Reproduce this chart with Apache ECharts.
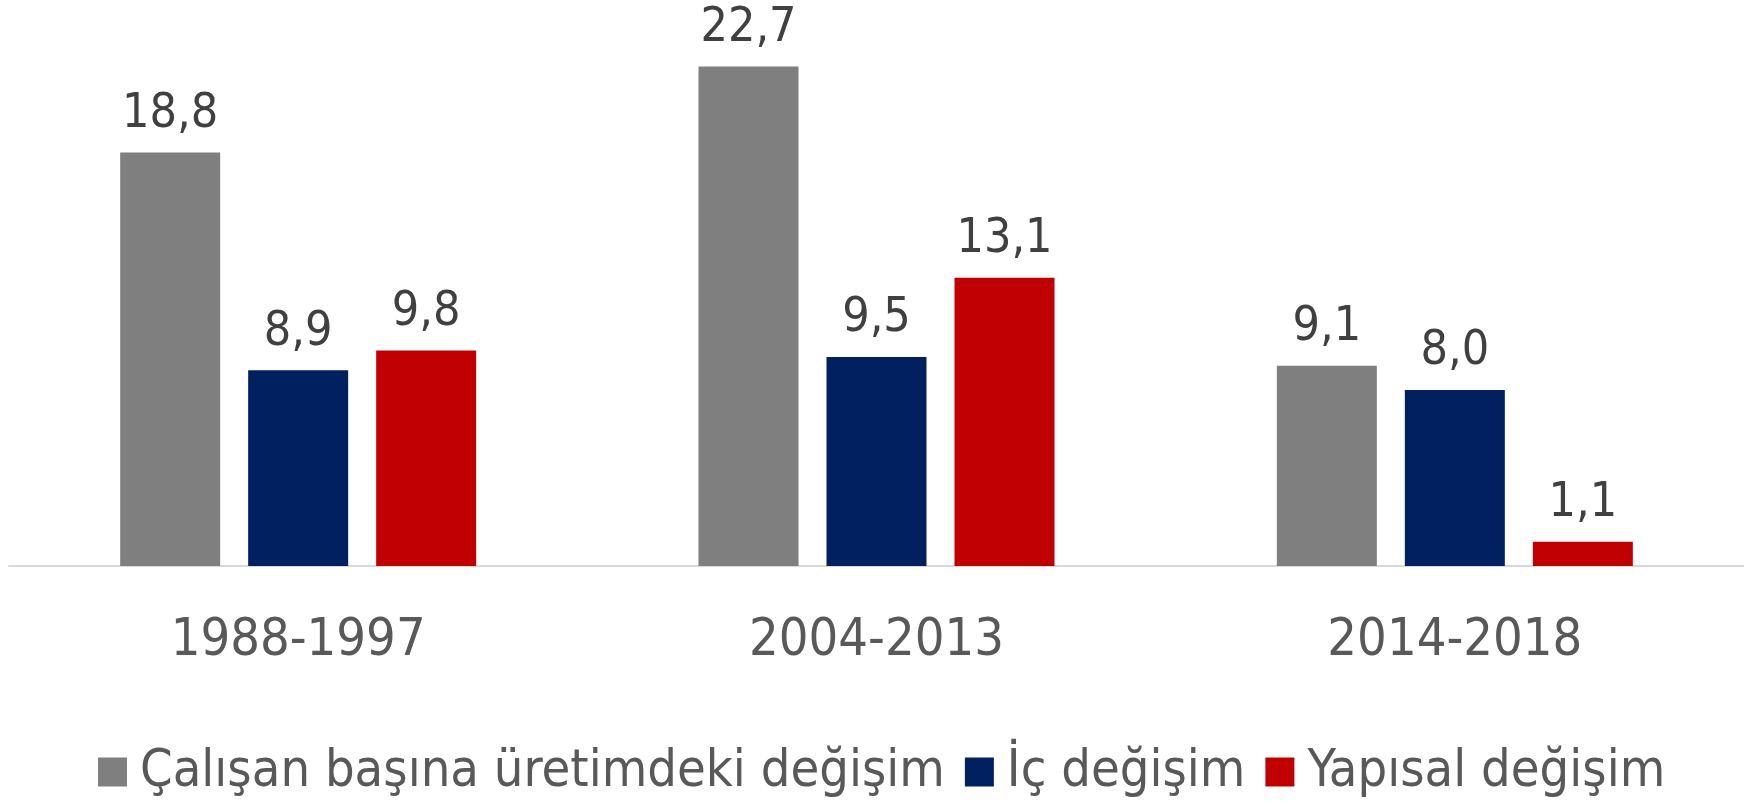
<!DOCTYPE html>
<html>
<head>
<meta charset="utf-8">
<script src="https://cdn.jsdelivr.net/npm/echarts@6/dist/echarts.min.js"></script>
<style>
	html, body { margin: 0; padding: 0; background: #fff; }
	#chart { width: 1744px; height: 802px; }
</style>
</head>
<body>
<div id="chart"></div>
<script>
var periods = ['1988-1997', '2004-2013', '2014-2018'];
var seriesNames = ['Çalışan başına üretimdeki değişim', 'İç değişim', 'Yapısal değişim'];
var calisanBasina = [18.8, 22.7, 9.1];
var icDegisim = [8.9, 9.5, 8.0];
var yapisalDegisim = [9.8, 13.1, 1.1];

var font = '"DejaVu Sans Condensed", "DejaVu Sans", sans-serif';

function barSeries(name, data, color) {
	return {
		name: name,
		type: 'bar',
		barWidth: 100,
		barGap: '28%',
		data: data,
		itemStyle: { color: color },
		label: {
			show: true,
			position: 'top',
			distance: 14,
			color: '#404040',
			fontFamily: font,
			fontSize: 48,
			formatter: function(p) {
				return p.value.toFixed(1).replace('.', ',');
			}
		}
	};
}

var chart = echarts.init(document.getElementById('chart'));
var option = {
	animation: false,
	grid: {
		left: 9,
		right: 0,
		top: 16,
		bottom: 236
	},
	legend: {
		left: 93,
		top: 741,
		itemWidth: 29,
		itemHeight: 29,
		itemGap: 20,
		icon: 'rect',
		data: seriesNames,
		textStyle: {
			color: '#595959',
			fontFamily: font,
			fontSize: 52,
			padding: [0, 0, 0, 8]
		}
	},
	xAxis: {
		type: 'category',
		data: periods,
		axisLine: { lineStyle: { color: '#d9d9d9', width: 2 } },
		axisTick: { show: false },
		axisLabel: {
			color: '#595959',
			fontFamily: font,
			fontSize: 52,
			margin: 49
		}
	},
	yAxis: {
		type: 'value',
		min: 0,
		max: 25,
		show: false,
		splitLine: { show: false }
	},
	series: [
		barSeries(seriesNames[0], calisanBasina, '#7f7f7f'),
		barSeries(seriesNames[1], icDegisim, '#002060'),
		barSeries(seriesNames[2], yapisalDegisim, '#c00000')
	]
};
chart.setOption(option);
</script>
</body>
</html>
